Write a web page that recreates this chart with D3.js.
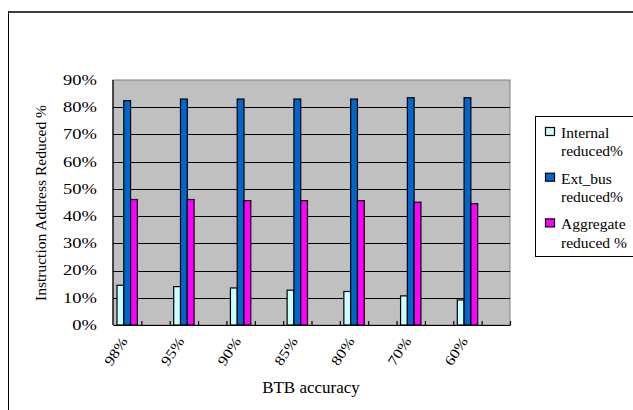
<!DOCTYPE html>
<html>
<head>
<meta charset="utf-8">
<script src="https://cdn.jsdelivr.net/npm/d3@7"></script>
<style>
  html, body { margin: 0; padding: 0; background: #fff; }
  svg { display: block; }
</style>
</head>
<body>
<svg id="chart" width="633" height="410"></svg>
<script>
// BTB accuracy settings (x categories)
const categories = ["98%", "95%", "90%", "85%", "80%", "70%", "60%"];
// Series values, in percent
const internalReduced  = [14.6, 14.1, 13.6, 12.8, 12.3, 10.7, 9.2];
const extBusReduced    = [82.4, 83.0, 83.0, 83.0, 83.0, 83.5, 83.5];
const aggregateReduced = [46.1, 46.1, 45.7, 45.7, 45.7, 45.1, 44.6];
const seriesNames  = ["Internal reduced%", "Ext_bus reduced%", "Aggregate reduced %"];
const legendLines  = [["Internal", "reduced%"], ["Ext_bus", "reduced%"], ["Aggregate", "reduced %"]];
const yTicks = [0, 10, 20, 30, 40, 50, 60, 70, 80, 90];

const series = [internalReduced, extBusReduced, aggregateReduced];
const colors = ["#CCFFFF", "#0066CC", "#FF00FF"];
const FONT = "'Liberation Serif', 'Times New Roman', serif";

const svg = d3.select("#chart");
const plot = { left: 113, right: 510, top: 80, bottom: 325 };

// Widen percent labels to the broad glyph width of the original face
function widen(sel, factor) {
  sel.each(function () {
    const w = this.getComputedTextLength();
    d3.select(this).attr("textLength", w * factor).attr("lengthAdjust", "spacingAndGlyphs");
  });
}

// Outer chart frame
svg.append("line").attr("x1", 8).attr("x2", 633).attr("y1", 12).attr("y2", 12)
  .attr("stroke", "#404040").attr("stroke-width", 2);
svg.append("line").attr("x1", 8.5).attr("x2", 8.5).attr("y1", 11).attr("y2", 410)
  .attr("stroke", "#000").attr("stroke-width", 1);

const y = d3.scaleLinear().domain([0, 90]).range([plot.bottom, plot.top]);
const x = d3.scaleBand().domain(categories).range([plot.left, plot.right]).padding(0);
// Half-slot scale: each category owns a bar slot followed by an empty slot
const xSlot = d3.scaleLinear().domain([0, categories.length * 2]).range([plot.left, plot.right]);

// Plot background
svg.append("rect")
  .attr("x", plot.left).attr("y", plot.top)
  .attr("width", plot.right - plot.left).attr("height", plot.bottom - plot.top)
  .attr("fill", "#C0C0C0").attr("stroke", "#808080").attr("stroke-width", 1);

// Horizontal gridlines
svg.append("g")
  .attr("transform", `translate(${plot.left},0)`)
  .call(d3.axisLeft(y).tickValues(yTicks.filter(t => t > 0 && t < 90)).tickSize(-(plot.right - plot.left)).tickFormat(""))
  .call(g => g.select(".domain").remove())
  .call(g => g.selectAll(".tick line").attr("stroke", "#000").attr("shape-rendering", "crispEdges"));

// Y tick labels
const yLab = svg.append("g").selectAll("text").data(yTicks).join("text")
  .attr("font-family", FONT)
  .attr("x", 97).attr("y", d => y(d)).attr("dy", "0.35em")
  .attr("text-anchor", "end").attr("font-size", 14)
  .text(d => d + "%");
widen(yLab, 1.32);

// Bars
const bw = (x.bandwidth() / 2 - 8) / 3;
const groups = svg.append("g").selectAll("g").data(categories).join("g")
  .attr("transform", d => `translate(${x(d) + 4},0)`);
series.forEach((vals, si) => {
  groups.append("rect")
    .attr("x", si * bw)
    .attr("y", (d, i) => y(vals[i]))
    .attr("width", bw)
    .attr("height", (d, i) => y(0) - y(vals[i]))
    .attr("fill", colors[si])
    .attr("stroke", "#000").attr("stroke-width", 1.2);
});

// Axes lines and tick marks
svg.append("g")
  .attr("transform", `translate(0,${plot.bottom})`)
  .call(d3.axisBottom(xSlot).tickValues(d3.range(1, categories.length * 2 + 1)).tickSize(-4).tickFormat("").tickSizeOuter(0))
  .call(g => g.selectAll("path, line").attr("stroke", "#000").attr("stroke-width", 1.2));
svg.append("line")
  .attr("x1", plot.left).attr("x2", plot.left).attr("y1", plot.top).attr("y2", plot.bottom)
  .attr("stroke", "#000").attr("stroke-width", 1.2);

// X category labels, rotated
const xLab = svg.append("g").selectAll("text").data(categories).join("text")
  .attr("font-family", FONT)
  .attr("text-anchor", "end").attr("font-size", 14)
  .attr("transform", d => `translate(${x(d) + x.bandwidth() / 4 + 1},${341}) rotate(-57)`)
  .text(d => d);
widen(xLab, 1.2);

// Axis titles
svg.append("text")
  .attr("font-family", FONT)
  .attr("x", 311).attr("y", 393).attr("text-anchor", "middle").attr("font-size", 17)
  .text("BTB accuracy");
svg.append("text")
  .attr("font-family", FONT)
  .attr("transform", "translate(46,203) rotate(-90)")
  .attr("text-anchor", "middle").attr("font-size", 15.5)
  .text("Instruction Address Reduced %");

// Legend
const legend = svg.append("g");
legend.append("rect")
  .attr("x", 535.5).attr("y", 116.5).attr("width", 120).attr("height", 140)
  .attr("fill", "#fff").attr("stroke", "#000").attr("stroke-width", 1);
const items = legend.selectAll("g.item").data(seriesNames).join("g")
  .attr("class", "item")
  .attr("transform", (d, i) => `translate(0,${i * 45.7})`);
items.append("rect")
  .attr("x", 545.5).attr("y", 127.5).attr("width", 9).attr("height", 8)
  .attr("fill", (d, i) => colors[i]).attr("stroke", "#000").attr("stroke-width", 1.2);
items.each(function (d, i) {
  const g = d3.select(this);
  legendLines[i].forEach((line, li) => {
    g.append("text").attr("font-family", FONT).attr("x", 561).attr("y", 138 + li * 18.3)
      .attr("font-size", 15.5).text(line);
  });
});
</script>
</body>
</html>
